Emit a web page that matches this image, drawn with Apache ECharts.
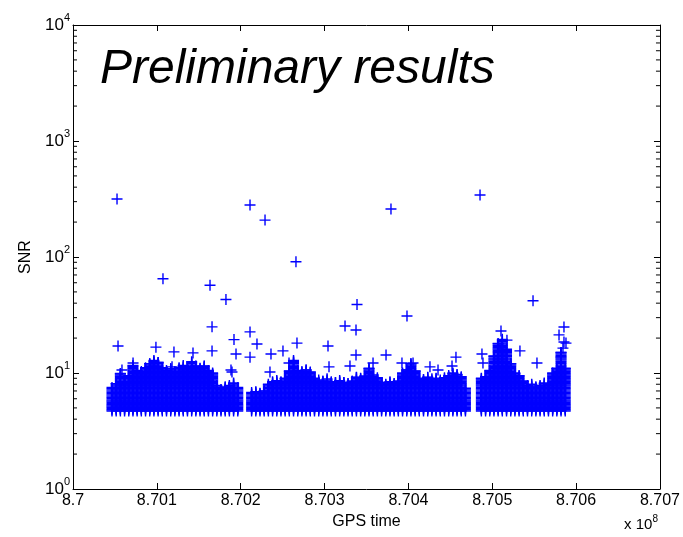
<!DOCTYPE html>
<html>
<head>
<meta charset="utf-8">
<script src="https://cdn.jsdelivr.net/npm/echarts@6/dist/echarts.min.js"></script>
<style>
  html, body { margin: 0; padding: 0; background: #fff; }
  #main { width: 683px; height: 537px; }
</style>
</head>
<body>
<div id="main"></div>
<script>
// axis range (GPS time in seconds, SNR log scale)
var timeMin = 870000000;
var timeMax = 870700000;
var timeStep = 100000;
var snrMin = 1;
var snrMax = 10000;
var minorFactors = [2, 3, 4, 5, 6, 7, 8, 9];
var decades = [1, 10, 100, 1000];

// dense band of triggers: three stretches of data, one column every 5000 s
var blobStep = 5000;
var blobStarts = [870046500, 870213000, 870487000];
// top SNR of the dense band per column
var blobTops1 = [7.5, 8.1, 9.9, 8.1, 9.5, 11.6, 10.5, 10.3, 11.1, 12.0, 12.8, 12.3, 11.1, 10.5, 10.9, 10.3,
  11.1, 11.6, 11.0, 12.5, 11.5, 11.0, 11.5, 10.5, 10.0, 7.8, 7.2, 7.6, 7.8, 8.2, 7.5];
var blobTops2 = [6.8, 6.9, 6.7, 7.0, 8.0, 8.4, 8.6, 8.4, 9.0, 10.4, 12.8, 10.5, 10.3, 10.6, 10.2, 9.0, 8.7,
  8.5, 8.9, 8.4, 8.3, 8.6, 8.3, 8.1, 8.5, 9.2, 9.0, 9.4, 11.0, 9.6, 9.1, 8.3, 8.0, 8.4, 8.1, 8.5, 10.0,
  10.6, 12.0, 10.4, 9.0, 8.8, 9.2, 8.9, 9.0, 8.7, 9.1, 9.5, 10.0, 9.7, 9.3, 7.4];
var blobTops3 = [9.0, 9.3, 10.5, 14.0, 18.0, 19.5, 16.0, 12.0, 10.0, 9.5, 8.5, 7.8, 8.0, 7.6, 7.8, 8.2, 7.9,
  10.0, 11.0, 15.0, 11.0];
// SNR values that fill each column of the band
var snrLevels = [4.7, 4.82, 4.94, 5.06, 5.19, 5.32, 5.45, 5.59, 5.73, 5.87, 6.02, 6.17, 6.32, 6.48, 6.64,
  6.81, 6.98, 7.15, 7.33, 7.51, 7.7, 7.89, 8.09, 8.29, 8.5, 8.71, 8.93, 9.15, 9.38, 9.61, 9.85, 10.1,
  10.35, 10.6, 10.87, 11.14, 11.42, 11.7, 12.0, 12.3, 12.6, 12.9, 13.2, 13.5, 13.9, 14.2, 14.6, 15.0,
  15.3, 15.7, 16.1, 16.5, 16.9, 17.3, 17.8, 18.2, 18.7, 19.1];

// isolated triggers [GPS time, SNR]
var loudTriggers = [
  [870052500, 316], [870211100, 281], [870229000, 208], [870265900, 91], [870379200, 259], [870485400, 342],
  [870107300, 65], [870163400, 57], [870182400, 43], [870338700, 39], [870548600, 42], [870398300, 31],
  [870165800, 25], [870324400, 25.4], [870337500, 23.5], [870211100, 22.6], [870053700, 17.1], [870304100, 17.1],
  [870585500, 24.9], [870579600, 21.3], [870587900, 18.1], [870510400, 23.0], [870517500, 19.2],
  [870585500, 18.5], [870584300, 16.4],
  [870098900, 16.7], [870120400, 15.2], [870143100, 14.9], [870192000, 19.4], [870194400, 14.6],
  [870219400, 17.8], [870165800, 15.5], [870236100, 14.6], [870250400, 15.5], [870267100, 18.1],
  [870305300, 11.3], [870330300, 11.5], [870337500, 14.3], [870373300, 14.3], [870392300, 12.2],
  [870405500, 12.2], [870357800, 12.2], [870425700, 11.3], [870435300, 10.6], [870456700, 13.7],
  [870452000, 11.5], [870487700, 14.6], [870488900, 12.2], [870533000, 15.5], [870553300, 12.2],
  [870581900, 13.7], [870189600, 10.2], [870071600, 12.2], [870058400, 10.6], [870118100, 11.3],
  [870257600, 12.2], [870234900, 10.2], [870211100, 13.7], [870188400, 10.6]
];

var blobTops = [blobTops1, blobTops2, blobTops3];
var points = [];
blobTops.forEach(function (tops, s) {
  tops.forEach(function (top, i) {
    var t = blobStarts[s] + i * blobStep;
    snrLevels.forEach(function (lv) {
      if (lv <= top) points.push([t, lv]);
    });
    points.push([t, top]);
  });
});
loudTriggers.forEach(function (p) { points.push(p); });

var minorData = [];
decades.forEach(function (d) {
  minorFactors.forEach(function (f) { minorData.push([timeMin, d * f]); });
});

var font = '"Liberation Sans", Arial, sans-serif';
var plus = 'path://M0,5.5L11,5.5M5.5,0L5.5,11';

var myChart = echarts.init(document.getElementById('main'));
myChart.setOption({
  animation: false,
  backgroundColor: '#fff',
  textStyle: { fontFamily: font, color: '#000' },
  grid: { left: 73, right: 23, top: 25, bottom: 48 },
  xAxis: [{
    type: 'value', min: timeMin, max: timeMax, interval: timeStep,
    name: 'GPS time', nameLocation: 'middle', nameGap: 24,
    nameTextStyle: { fontSize: 16, color: '#000', fontFamily: font },
    axisLine: { lineStyle: { color: '#000', width: 1 } },
    axisTick: { inside: true, length: 6, lineStyle: { color: '#000' } },
    axisLabel: {
      fontSize: 16, color: '#000', margin: 4, fontFamily: font,
      formatter: function (v) { return String(parseFloat((v / 1e8).toFixed(3))); }
    },
    splitLine: { show: false }
  }, {
    type: 'value', position: 'top', min: timeMin, max: timeMax, interval: timeStep,
    axisLine: { lineStyle: { color: '#000', width: 1 } },
    axisTick: { inside: true, length: 6, lineStyle: { color: '#000' } },
    axisLabel: { show: false },
    splitLine: { show: false }
  }],
  yAxis: [{
    type: 'log', logBase: 10, min: snrMin, max: snrMax,
    name: 'SNR', nameLocation: 'middle', nameGap: 38,
    nameTextStyle: { fontSize: 16, color: '#000', fontFamily: font },
    axisLine: { lineStyle: { color: '#000', width: 1 } },
    axisTick: { inside: true, length: 6, lineStyle: { color: '#000' } },
    axisLabel: {
      margin: 3, color: '#000',
      formatter: function (v) {
        return '{b|10}{s|' + Math.round(Math.log10(v)) + '}';
      },
      rich: {
        b: { fontSize: 17, fontFamily: font, color: '#000' },
        s: { fontSize: 11, fontFamily: font, color: '#000', padding: [0, 0, 14, 0] }
      }
    },
    splitLine: { show: false }
  }, {
    type: 'log', logBase: 10, min: snrMin, max: snrMax, position: 'right',
    axisLine: { lineStyle: { color: '#000', width: 1 } },
    axisTick: { inside: true, length: 6, lineStyle: { color: '#000' } },
    axisLabel: { show: false },
    splitLine: { show: false }
  }],
  graphic: [{
    type: 'text', left: 100, top: 46,
    style: { text: 'Preliminary results', font: 'italic 48px ' + font, fill: '#000' }
  }, {
    type: 'text', right: 25, top: 514,
    style: {
      text: '{a|x 10}{s|8}',
      rich: {
        a: { fontSize: 15, fontFamily: font, fill: '#000' },
        s: { fontSize: 10, fontFamily: font, fill: '#000', padding: [0, 0, 12, 0] }
      }
    }
  }],
  series: [{
    type: 'scatter',
    data: points,
    symbol: plus,
    symbolSize: 11,
    progressive: 0,
    large: false,
    itemStyle: { color: '#0000ff', borderColor: '#0000ff', borderWidth: 1.4, opacity: 1 },
    emphasis: { disabled: true },
    silent: true
  }, {
    // minor log ticks on left and right frame
    type: 'custom',
    data: minorData,
    silent: true,
    renderItem: function (params, api) {
      var v = api.value(1);
      var pl = api.coord([timeMin, v]);
      var pr = api.coord([timeMax, v]);
      return {
        type: 'group',
        children: [{
          type: 'line',
          shape: { x1: pl[0], y1: pl[1], x2: pl[0] + 4, y2: pl[1] },
          style: { stroke: '#000', lineWidth: 1 }
        }, {
          type: 'line',
          shape: { x1: pr[0] - 4, y1: pr[1], x2: pr[0], y2: pr[1] },
          style: { stroke: '#000', lineWidth: 1 }
        }]
      };
    }
  }]
});
</script>
</body>
</html>
